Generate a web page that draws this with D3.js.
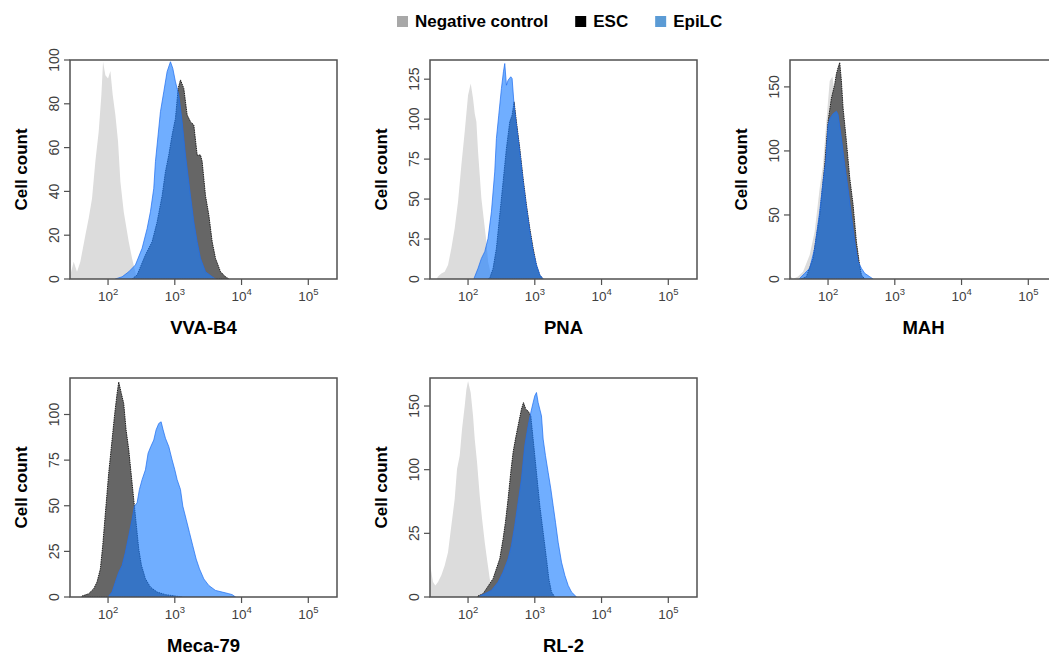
<!DOCTYPE html>
<html>
<head>
<meta charset="utf-8">
<script src="https://cdn.jsdelivr.net/npm/d3@7"></script>
<style>
  body { margin: 0; background: #fff; }
  svg { display: block; font-family: Arial, "Liberation Sans", sans-serif; }
</style>
</head>
<body>
<svg id="chart" width="1049" height="655"></svg>
<script>
// ---- data: [log10(fluorescence), cell count] ----
const vvaNeg = [[1.435,1.8],[1.485,7.9],[1.535,3.3],[1.585,7.9],[1.66,20],[1.71,27.7],[1.76,36.8],[1.81,53.6],[1.86,67.3],[1.90,84],[1.925,99.2],[1.96,93],[2.0,91.6],[2.035,95],[2.07,84],[2.11,74.9],[2.15,62.7],[2.185,44.4],[2.235,30.7],[2.31,17],[2.36,9.4],[2.42,1.8],[2.46,0]];
const vvaEsc = [[2.36,0],[2.435,1.8],[2.56,11],[2.66,17],[2.735,26],[2.81,38],[2.86,49],[2.91,56.6],[2.96,65.8],[3.01,73.4],[3.05,87],[3.085,90.9],[3.135,87],[3.185,74.9],[3.235,71.8],[3.285,70.3],[3.335,56.6],[3.385,56.6],[3.41,53.6],[3.46,38],[3.51,29.2],[3.56,17],[3.61,9.4],[3.685,3.3],[3.76,1],[3.81,0]];
const vvaEpi = [[2.11,0],[2.21,1],[2.31,3.3],[2.41,6.4],[2.51,14],[2.585,23],[2.635,30.7],[2.685,41.4],[2.71,53.6],[2.75,65.8],[2.785,76.4],[2.835,85.5],[2.885,94.7],[2.935,99.2],[2.97,96.2],[3.01,90],[3.06,84],[3.11,71.8],[3.16,56.6],[3.235,38],[3.285,26],[3.335,17],[3.385,9.4],[3.46,3.3],[3.56,1],[3.61,0]];

const pnaNeg = [[1.53,0],[1.55,1.5],[1.60,3.5],[1.65,4.6],[1.70,8.75],[1.75,19.2],[1.80,31.7],[1.85,48.3],[1.90,71.25],[1.95,92.1],[2.0,115],[2.04,122.3],[2.075,112.9],[2.10,103.5],[2.125,98.3],[2.15,79.6],[2.175,65],[2.20,50.4],[2.24,35.8],[2.275,23.3],[2.30,10.8],[2.35,1.5],[2.375,0]];
const pnaEsc = [[2.3,0],[2.325,0.4],[2.375,6.7],[2.425,19.2],[2.475,40],[2.525,60.8],[2.575,81.7],[2.625,98.3],[2.66,102.5],[2.69,110.8],[2.725,98.3],[2.775,81.7],[2.825,62.9],[2.875,46.25],[2.925,31.7],[2.975,19.2],[3.025,8.75],[3.075,2.5],[3.125,0]];
const pnaEpi = [[2.09,0.4],[2.15,6.7],[2.20,12.9],[2.25,17.1],[2.30,25.4],[2.35,42],[2.40,67],[2.425,87.9],[2.46,102.5],[2.50,119.2],[2.53,129.6],[2.55,134.8],[2.575,121.25],[2.60,124.4],[2.64,126.5],[2.66,125.4],[2.69,108.75],[2.725,96.25],[2.775,79.6],[2.825,60.8],[2.875,44.4],[2.925,29.8],[2.975,17.3],[3.025,8.75],[3.075,2.5],[3.125,0]];

const mahNeg = [[1.425,3.1],[1.475,0],[1.55,2],[1.625,5.7],[1.725,18.8],[1.80,37],[1.875,71],[1.925,89],[1.975,123],[2.025,154.6],[2.065,158],[2.125,136],[2.20,97],[2.275,58],[2.35,29],[2.425,11],[2.50,1.8],[2.575,0]];
const mahEsc = [[1.6,0],[1.675,1.8],[1.775,16],[1.875,50],[1.95,89],[2.0,123],[2.05,141],[2.10,152],[2.125,160],[2.15,165],[2.175,169],[2.20,154.6],[2.225,133.7],[2.275,107.6],[2.325,78.9],[2.375,58],[2.425,29],[2.465,13.6],[2.50,3.1],[2.55,0]];
const mahEpi = [[1.575,0.5],[1.65,4.4],[1.725,8.4],[1.80,24],[1.875,52.7],[1.925,76],[1.965,91.4],[2.0,120],[2.025,125],[2.075,129],[2.125,131],[2.15,128.5],[2.20,110],[2.25,89],[2.30,70.5],[2.35,49.6],[2.40,29],[2.45,13.6],[2.50,8.4],[2.55,4.4],[2.625,1.8],[2.675,0]];

const mecaNeg = [[1.71,1],[1.81,4],[1.91,15],[1.985,45],[2.06,78],[2.135,100],[2.185,104],[2.25,95],[2.31,82],[2.36,60],[2.41,38],[2.46,20],[2.535,7],[2.635,1.5],[2.71,0]];
const mecaEsc = [[1.61,0.5],[1.71,1.8],[1.785,4.5],[1.835,8.2],[1.885,15.4],[1.92,28],[1.96,46],[2.01,67.9],[2.06,86],[2.10,100.5],[2.135,111.4],[2.16,117.8],[2.20,111.4],[2.235,106],[2.27,91.6],[2.31,80.7],[2.345,67.9],[2.385,53.4],[2.42,40.8],[2.46,26.3],[2.50,17.4],[2.56,10],[2.635,5.4],[2.735,2.7],[2.86,1.3],[3.01,0.5],[3.11,0]];
const mecaEpi = [[2.01,0.5],[2.06,2.7],[2.11,8.2],[2.16,13.6],[2.21,17.2],[2.26,24.5],[2.31,33.5],[2.36,42.6],[2.395,49.8],[2.435,51.6],[2.47,58.9],[2.51,64.3],[2.56,69.7],[2.60,78.8],[2.64,82.4],[2.685,86],[2.72,91.6],[2.76,95.1],[2.795,96],[2.825,91.6],[2.86,87],[2.91,82.4],[2.96,75.1],[3.0,69.7],[3.035,64.3],[3.085,58.9],[3.12,49.8],[3.17,42.6],[3.22,35.3],[3.27,28],[3.32,20.8],[3.37,15.4],[3.435,9.9],[3.51,6.3],[3.61,3.6],[3.71,2.7],[3.81,1.8],[3.86,1.3],[3.91,0]];

const rlNeg = [[1.425,27.4],[1.475,11.7],[1.51,9.1],[1.55,11.7],[1.60,17],[1.65,24.8],[1.70,35.2],[1.75,56.1],[1.80,77],[1.835,100.5],[1.875,111],[1.91,131.9],[1.95,150],[1.975,163],[2.0,169.7],[2.04,160.5],[2.075,142.2],[2.10,124],[2.135,105.8],[2.175,79.6],[2.21,61.4],[2.25,43],[2.29,27.4],[2.325,14.4],[2.375,3.9],[2.425,0]];
const rlEsc = [[2.15,0.8],[2.225,2.6],[2.275,6.5],[2.325,10.4],[2.375,14.4],[2.425,22.2],[2.475,30],[2.525,45.7],[2.56,58.7],[2.60,77],[2.64,98],[2.675,113.7],[2.71,124],[2.75,134.5],[2.80,147.5],[2.83,152.7],[2.865,147.5],[2.90,146],[2.94,142.2],[2.975,124],[3.025,97.9],[3.075,71.8],[3.125,50.9],[3.175,30],[3.21,14.4],[3.25,3.9],[3.30,0]];
const rlEpi = [[2.175,0.8],[2.25,2.6],[2.35,5.2],[2.45,11.7],[2.525,19.6],[2.60,30],[2.65,40.5],[2.70,56.1],[2.75,74.4],[2.80,92.7],[2.85,118.8],[2.90,134.5],[2.94,144.9],[2.975,152.7],[3.0,158],[3.025,160.6],[3.05,152.7],[3.075,147.5],[3.10,142.2],[3.125,124],[3.16,111],[3.20,97.9],[3.24,84.9],[3.275,71.8],[3.31,58.7],[3.35,43],[3.40,27.4],[3.45,17],[3.50,9.1],[3.55,3.9],[3.625,0]];

const panelNames = ["VVA-B4", "PNA", "MAH", "Meca-79", "RL-2"];
const yMaxes = [100, 137, 171, 120, 172];
const yTickVals = [[0,20,40,60,80,100], [0,25,50,75,100,125], [0,50,100,150], [0,25,50,75,100], [0,50,100,150]];
const yTickText = [["0","20","40","60","80","100"], ["0","25","50","75","100","125"], ["0","50","100","150"], ["0","25","50","75","100"], ["0","25","100","150"]];
const xTickExp = [2, 3, 4, 5];
const seriesNames = ["Negative control", "ESC", "EpiLC"];

// table built from the arrays above
const panelSeries = [
  [vvaNeg, vvaEsc, vvaEpi],
  [pnaNeg, pnaEsc, pnaEpi],
  [mahNeg, mahEsc, mahEpi],
  [mecaNeg, mecaEsc, mecaEpi],
  [rlNeg, rlEsc, rlEpi]
];

// ---- layout / style ----
const PW = 267, PH = 219;
const COL_X = [70, 430, 790];
const ROW_Y = [60, 378];
const fills = ["#dcdcdc", "#666666", "rgba(25,125,255,0.62)"];
const strokes = ["none", "#1e1e1e", "rgba(30,110,240,0.9)"];
const legendColors = ["#a8a8a8", "#000000", "#5b9bd5"];

const svg = d3.select("#chart");

panelNames.forEach((name, i) => {
  const left = COL_X[i % 3];
  const top = ROW_Y[Math.floor(i / 3)];
  const g = svg.append("g").attr("transform", `translate(${left},${top})`);

  const x = d3.scaleLog().domain([Math.pow(10, 1.43), Math.pow(10, 5.43)]).range([0, PW]);
  const y = d3.scaleLinear().domain([0, yMaxes[i]]).range([PH, 0]);

  g.append("clipPath").attr("id", "clip" + i)
    .append("rect").attr("width", PW).attr("height", PH);

  const area = d3.area()
    .x(d => x(Math.pow(10, d[0])))
    .y0(y(0))
    .y1(d => y(d[1]));

  const plot = g.append("g").attr("clip-path", `url(#clip${i})`);
  panelSeries[i].forEach((data, s) => {
    plot.append("path")
      .attr("d", area(data))
      .attr("fill", fills[s])
      .attr("stroke", strokes[s])
      .attr("stroke-width", s === 1 ? 1 : 0.8)
      .attr("stroke-dasharray", s === 1 ? "1.5,0.8" : null);
  });

  // frame
  g.append("rect").attr("width", PW).attr("height", PH)
    .attr("fill", "none").attr("stroke", "#505050").attr("stroke-width", 1.5);

  // y ticks
  const yt = g.append("g");
  yTickVals[i].forEach((v, k) => {
    yt.append("line").attr("x1", -6).attr("x2", 0)
      .attr("y1", y(v)).attr("y2", y(v))
      .attr("stroke", "#505050").attr("stroke-width", 1.2);
    yt.append("text")
      .attr("transform", `translate(-11,${y(v)}) rotate(-90)`)
      .attr("text-anchor", "middle")
      .attr("font-size", 14).attr("fill", "#404040")
      .text(yTickText[i][k]);
  });

  // x ticks
  const xt = g.append("g");
  xTickExp.forEach(e => {
    const px = x(Math.pow(10, e));
    xt.append("line").attr("x1", px).attr("x2", px)
      .attr("y1", PH).attr("y2", PH + 6)
      .attr("stroke", "#505050").attr("stroke-width", 1.2);
    const t = xt.append("text")
      .attr("x", px).attr("y", PH + 22)
      .attr("text-anchor", "middle")
      .attr("font-size", 13.5).attr("fill", "#404040");
    t.append("tspan").text("10");
    t.append("tspan").attr("dy", -6).attr("font-size", 9.5).text(e);
  });

  // axis titles
  g.append("text")
    .attr("transform", `translate(-43,${PH / 2}) rotate(-90)`)
    .attr("text-anchor", "middle")
    .attr("font-size", 17).attr("font-weight", "bold").attr("fill", "#000")
    .text("Cell count");
  g.append("text")
    .attr("x", PW / 2).attr("y", PH + 55)
    .attr("text-anchor", "middle")
    .attr("font-size", 18.5).attr("font-weight", "bold").attr("fill", "#000")
    .text(name);
});

// legend
const leg = svg.append("g").attr("transform", "translate(397,0)");
let lx = 0;
seriesNames.forEach((n, k) => {
  leg.append("rect").attr("x", lx).attr("y", 16).attr("width", 11).attr("height", 11)
    .attr("fill", legendColors[k]);
  const t = leg.append("text").attr("x", lx + 18).attr("y", 27)
    .attr("font-size", 17).attr("font-weight", "bold").attr("fill", "#000")
    .text(n);
  lx += 18 + t.node().getComputedTextLength() + 27;
});
</script>
</body>
</html>
